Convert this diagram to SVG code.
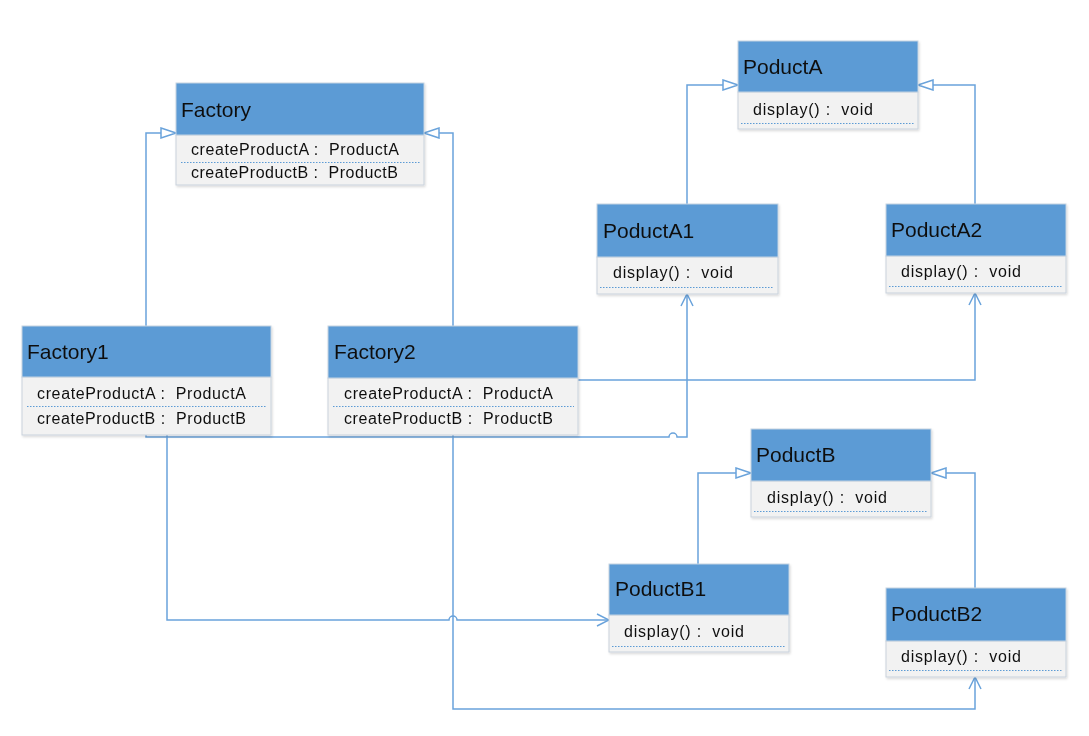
<svg xmlns="http://www.w3.org/2000/svg" width="1089" height="736" viewBox="0 0 1089 736">
<style>
.hd{fill:#5B9BD5;stroke:#C5D3E2;stroke-width:1}
.bd{fill:#F2F2F2;stroke:#C9D2DC;stroke-width:1}
.t{font-family:"Liberation Sans",Arial,sans-serif;font-size:21px;fill:#111}
.a{font-family:"Liberation Sans",Arial,sans-serif;font-size:16px;fill:#111}
.dl{stroke:#5B9BD5;stroke-width:1;stroke-dasharray:1.5,1.5;fill:none}
.c{fill:none;stroke:#6AA3DB;stroke-width:1.5}
</style>
<defs>
<filter id="sh" x="-5%" y="-5%" width="115%" height="120%"><feDropShadow dx="1" dy="1.5" stdDeviation="1" flood-color="#000" flood-opacity="0.15"/></filter>
<marker id="tri" markerUnits="userSpaceOnUse" markerWidth="17" markerHeight="12" viewBox="-1 -1 17 12" refX="15" refY="5" orient="auto"><path d="M0,0 L15,5 L0,10 Z" fill="#fff" stroke="#6AA3DB" stroke-width="1.5"/></marker>
<marker id="opn" markerUnits="userSpaceOnUse" markerWidth="14" markerHeight="14" viewBox="-1 -1 14 14" refX="12" refY="6" orient="auto"><path d="M0,0 L12,6 L0,12" fill="none" stroke="#6AA3DB" stroke-width="1.5"/></marker>
</defs>
<rect width="1089" height="736" fill="#fff"/>

<g id="connectors">
<path class="c" d="M146,326 V133 H176" marker-end="url(#tri)"/>
<path class="c" d="M453,326 V133 H424" marker-end="url(#tri)"/>
<path class="c" d="M687,204 V85 H738" marker-end="url(#tri)"/>
<path class="c" d="M975,204 V85 H918" marker-end="url(#tri)"/>
<path class="c" d="M698,564 V473 H751" marker-end="url(#tri)"/>
<path class="c" d="M975,588 V473 H931" marker-end="url(#tri)"/>
<path class="c" d="M146,435 V437 H669 a4,4 0 0 1 8,0 H687 V294" marker-end="url(#opn)"/>
<path class="c" d="M167,435 V620 H449 a4,4 0 0 1 8,0 H609" marker-end="url(#opn)"/>
<path class="c" d="M578,380 H975 V293" marker-end="url(#opn)"/>
<path class="c" d="M453,435 V709 H975 V677" marker-end="url(#opn)"/>
</g>

<g id="Factory" filter="url(#sh)">
<rect class="bd" x="176" y="135" width="248" height="50"/>
<rect class="hd" x="176" y="83" width="248" height="52"/>
<text class="t" x="181" y="117">Factory</text>
<text class="a" x="191" y="155" textLength="208">createProductA :&#160; ProductA</text>
<line class="dl" x1="181" y1="162.5" x2="420" y2="162.5"/>
<text class="a" x="191" y="178" textLength="207">createProductB :&#160; ProductB</text>
</g>

<g id="Factory1" filter="url(#sh)">
<rect class="bd" x="22" y="377" width="249" height="58"/>
<rect class="hd" x="22" y="326" width="249" height="51"/>
<text class="t" x="27" y="359">Factory1</text>
<text class="a" x="37" y="399" textLength="209">createProductA :&#160; ProductA</text>
<line class="dl" x1="27" y1="406.5" x2="267" y2="406.5"/>
<text class="a" x="37" y="424" textLength="209">createProductB :&#160; ProductB</text>
</g>

<g id="Factory2" filter="url(#sh)">
<rect class="bd" x="328" y="378" width="250" height="57"/>
<rect class="hd" x="328" y="326" width="250" height="52"/>
<text class="t" x="334" y="359">Factory2</text>
<text class="a" x="344" y="399" textLength="209">createProductA :&#160; ProductA</text>
<line class="dl" x1="333" y1="406.5" x2="574" y2="406.5"/>
<text class="a" x="344" y="424" textLength="209">createProductB :&#160; ProductB</text>
</g>

<g id="PoductA" filter="url(#sh)">
<rect class="bd" x="738" y="92" width="180" height="37"/>
<rect class="hd" x="738" y="41" width="180" height="51"/>
<text class="t" x="743" y="74">PoductA</text>
<text class="a" x="753" y="115" textLength="120">display() :&#160; void</text>
<line class="dl" x1="741" y1="123.5" x2="914" y2="123.5"/>
</g>

<g id="PoductA1" filter="url(#sh)">
<rect class="bd" x="597" y="257" width="181" height="37"/>
<rect class="hd" x="597" y="204" width="181" height="53"/>
<text class="t" x="603" y="238">PoductA1</text>
<text class="a" x="613" y="278" textLength="120">display() :&#160; void</text>
<line class="dl" x1="600" y1="287.5" x2="774" y2="287.5"/>
</g>

<g id="PoductA2" filter="url(#sh)">
<rect class="bd" x="886" y="256" width="180" height="37"/>
<rect class="hd" x="886" y="204" width="180" height="52"/>
<text class="t" x="891" y="237">PoductA2</text>
<text class="a" x="901" y="277" textLength="120">display() :&#160; void</text>
<line class="dl" x1="889" y1="286.5" x2="1062" y2="286.5"/>
</g>

<g id="PoductB" filter="url(#sh)">
<rect class="bd" x="751" y="481" width="180" height="36"/>
<rect class="hd" x="751" y="429" width="180" height="52"/>
<text class="t" x="756" y="462">PoductB</text>
<text class="a" x="767" y="503" textLength="120">display() :&#160; void</text>
<line class="dl" x1="754" y1="511.5" x2="927" y2="511.5"/>
</g>

<g id="PoductB1" filter="url(#sh)">
<rect class="bd" x="609" y="615" width="180" height="37"/>
<rect class="hd" x="609" y="564" width="180" height="51"/>
<text class="t" x="615" y="596">PoductB1</text>
<text class="a" x="624" y="637" textLength="120">display() :&#160; void</text>
<line class="dl" x1="612" y1="646.5" x2="785" y2="646.5"/>
</g>

<g id="PoductB2" filter="url(#sh)">
<rect class="bd" x="886" y="641" width="180" height="36"/>
<rect class="hd" x="886" y="588" width="180" height="53"/>
<text class="t" x="891" y="621">PoductB2</text>
<text class="a" x="901" y="662" textLength="120">display() :&#160; void</text>
<line class="dl" x1="889" y1="670.5" x2="1062" y2="670.5"/>
</g>
</svg>
